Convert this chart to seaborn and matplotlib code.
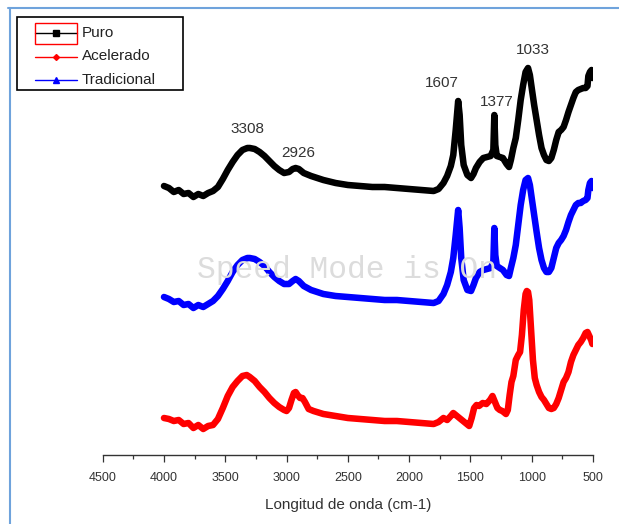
import pandas as pd
import matplotlib.pyplot as plt
import seaborn as sns
from matplotlib.lines import Line2D
from matplotlib.patches import Rectangle

sns.set_theme(style='white')
plt.rcParams['font.family'] = ['Liberation Sans', 'DejaVu Sans']

# 波数 (cm-1)
wn_puro = [4000, 3960, 3920, 3880, 3840, 3800, 3760, 3720, 3680, 3640, 3600, 3560, 3520, 3480,
           3440, 3400, 3360, 3320, 3300, 3260, 3220, 3180, 3140, 3100, 3060, 3020, 2980, 2950,
           2926, 2900, 2860, 2800, 2700, 2600, 2500, 2400, 2300, 2200, 2100, 2000, 1900, 1800,
           1760, 1720, 1690, 1660, 1640, 1620, 1600, 1588, 1575, 1555, 1525, 1495, 1475, 1455,
           1425, 1395, 1365, 1335, 1313, 1305, 1297, 1285, 1260, 1235, 1205, 1185, 1170, 1150,
           1130, 1110, 1090, 1070, 1050, 1030, 1015, 1000, 980, 960, 940, 920, 900, 880, 860,
           840, 820, 800, 780, 760, 740, 720, 700, 680, 660, 640, 620, 600, 580, 560, 545, 538,
           525, 512, 505]
# 吸光度 (任意単位, オフセット込み)
abs_puro = [2.69, 2.67, 2.63, 2.65, 2.61, 2.62, 2.58, 2.61, 2.59, 2.62, 2.64, 2.68, 2.76, 2.85,
            2.93, 3.00, 3.05, 3.07, 3.07, 3.06, 3.03, 2.99, 2.94, 2.89, 2.85, 2.82, 2.83, 2.86,
            2.87, 2.86, 2.82, 2.79, 2.75, 2.72, 2.70, 2.69, 2.68, 2.68, 2.67, 2.66, 2.65, 2.64,
            2.66, 2.72, 2.79, 2.89, 3.00, 3.25, 3.54, 3.40, 3.10, 2.90, 2.80, 2.77, 2.81, 2.87,
            2.93, 2.97, 2.98, 2.99, 3.05, 3.40, 3.10, 2.99, 2.98, 2.97, 2.91, 2.88, 2.95, 3.07,
            3.17, 3.35, 3.55, 3.70, 3.83, 3.87, 3.80, 3.67, 3.50, 3.35, 3.20, 3.07, 3.00, 2.95, 2.94,
            2.97, 3.05, 3.15, 3.23, 3.25, 3.28, 3.35, 3.43, 3.50, 3.57, 3.63, 3.65, 3.66, 3.67, 3.67,
            3.69, 3.79, 3.83, 3.85, 3.77]

wn_trad = wn_puro
abs_trad = [1.58, 1.56, 1.53, 1.54, 1.50, 1.51, 1.47, 1.50, 1.48, 1.51, 1.54, 1.59, 1.66, 1.74,
            1.83, 1.90, 1.95, 1.97, 1.97, 1.96, 1.93, 1.89, 1.83, 1.78, 1.74, 1.71, 1.71, 1.74,
            1.76, 1.74, 1.69, 1.65, 1.61, 1.59, 1.58, 1.57, 1.56, 1.55, 1.55, 1.54, 1.53, 1.52,
            1.54, 1.61, 1.70, 1.83, 1.97, 2.20, 2.45, 2.27, 1.97, 1.75, 1.65, 1.64, 1.70, 1.77,
            1.83, 1.85, 1.86, 1.87, 1.93, 2.27, 2.00, 1.89, 1.87, 1.85, 1.80, 1.79, 1.87, 1.97,
            2.10, 2.30, 2.50, 2.65, 2.75, 2.77, 2.70, 2.57, 2.40, 2.23, 2.07, 1.95, 1.87, 1.83, 1.83,
            1.87, 1.97, 2.07, 2.12, 2.15, 2.19, 2.25, 2.33, 2.40, 2.45, 2.50, 2.52, 2.52, 2.54, 2.55,
            2.57, 2.65, 2.72, 2.74, 2.67]

wn_acel = [4000, 3960, 3920, 3880, 3840, 3800, 3760, 3720, 3680, 3640, 3600, 3560, 3520, 3480,
           3440, 3400, 3360, 3325, 3300, 3260, 3220, 3180, 3140, 3100, 3060, 3020, 3000, 2980,
           2960, 2940, 2926, 2910, 2890, 2870, 2850, 2820, 2780, 2700, 2600, 2500, 2400, 2300,
           2200, 2100, 2000, 1900, 1800, 1760, 1720, 1690, 1660, 1640, 1620, 1590, 1560, 1530,
           1510, 1490, 1470, 1450, 1430, 1400, 1370, 1340, 1320, 1300, 1280, 1260, 1240, 1210,
           1195, 1180, 1165, 1150, 1130, 1110, 1095, 1080, 1065, 1050, 1040, 1030, 1020, 1005,
           990, 975, 960, 940, 920, 900, 880, 860, 840, 820, 800, 780, 760, 740, 720, 700, 680,
           660, 640, 620, 600, 580, 560, 545, 530, 515, 505]
abs_acel = [0.37, 0.36, 0.34, 0.35, 0.31, 0.32, 0.27, 0.30, 0.26, 0.29, 0.30, 0.36, 0.47, 0.59,
            0.68, 0.74, 0.79, 0.80, 0.78, 0.74, 0.68, 0.63, 0.57, 0.52, 0.48, 0.45, 0.44, 0.47,
            0.55, 0.62, 0.63, 0.60, 0.57, 0.57, 0.53, 0.46, 0.44, 0.41, 0.39, 0.37, 0.36, 0.35,
            0.34, 0.34, 0.33, 0.32, 0.31, 0.33, 0.37, 0.35, 0.39, 0.42, 0.40, 0.37, 0.34, 0.31,
            0.29, 0.37, 0.47, 0.50, 0.49, 0.52, 0.51, 0.55, 0.59, 0.53, 0.47, 0.45, 0.44, 0.41,
            0.45, 0.60, 0.73, 0.79, 0.95, 1.00, 1.03, 1.20, 1.45, 1.61, 1.64, 1.63, 1.55, 1.25,
            0.95, 0.77, 0.70, 0.63, 0.58, 0.55, 0.51, 0.47, 0.46, 0.47, 0.51, 0.57, 0.65, 0.73, 0.77,
            0.83, 0.93, 1.00, 1.05, 1.10, 1.13, 1.17, 1.22, 1.23, 1.19, 1.15, 1.11]

peak_labels = ['3308', '2926', '1607', '1377', '1033']
peak_label_x = [3320, 2905, 1735, 1286, 990]
peak_label_y = [3.26, 3.02, 3.72, 3.53, 4.05]

names = ['Puro', 'Acelerado', 'Tradicional']
colors = {'Puro': '#000000', 'Acelerado': '#ff0000', 'Tradicional': '#0000ff'}
markers = {'Puro': ('s', 4.5), 'Acelerado': ('D', 3), 'Tradicional': ('^', 5)}

df = pd.concat([
    pd.DataFrame({'wn': wn_puro, 'abs': abs_puro, 'muestra': 'Puro'}),
    pd.DataFrame({'wn': wn_trad, 'abs': abs_trad, 'muestra': 'Tradicional'}),
    pd.DataFrame({'wn': wn_acel, 'abs': abs_acel, 'muestra': 'Acelerado'}),
])

W, H = 619, 524


def fx(x):
    return x / W


def fy(y):
    return 1 - y / H


fig = plt.figure(figsize=(W / 100, H / 100), dpi=100)
ax = fig.add_axes([fx(102.7), 69 / H, 490.3 / W, 440 / H])

sns.lineplot(data=df, x='wn', y='abs', hue='muestra', palette=colors, sort=False,
             estimator=None, linewidth=4.7, legend=False, ax=ax, zorder=3)
for line in ax.lines:
    line.set_solid_joinstyle('round')
    line.set_solid_capstyle('round')

ax.set_xlim(4500, 500)
ax.set_ylim(0, 4.40)
ax.set_xticks(range(4500, 499, -500))
ax.set_xticks(range(4250, 500, -500), minor=True)
ax.set_yticks([])
ax.set_ylabel('')
for s in ['left', 'top', 'right']:
    ax.spines[s].set_visible(False)
ax.spines['bottom'].set_color('#333333')
ax.spines['bottom'].set_linewidth(1.0)
ax.tick_params(axis='x', which='major', direction='out', length=4.8, width=0.9,
               color='#333333', labelsize=9, labelcolor='#333333', pad=7.5, bottom=True)
ax.tick_params(axis='x', which='minor', direction='out', length=2.9, width=0.9,
               color='#333333', bottom=True)
ax.set_xlabel('Longitud de onda (cm-1)', fontsize=11, color='#333333', labelpad=10)

for t, x, y in zip(peak_labels, peak_label_x, peak_label_y):
    ax.text(x, y, t, ha='center', va='center', fontsize=11, color='#333333')

# watermark
fig.text(fx(347), fy(270), 'Speed Mode is On', ha='center', va='center',
         fontsize=22.5, family='Liberation Mono', color='#dcdcdc', zorder=0)

# 凡例 (手描き)
fig.add_artist(Rectangle((fx(17), fy(90)), 166 / W, 73 / H, transform=fig.transFigure,
                         facecolor='white', edgecolor='black', lw=1.2, zorder=5))
for i, name in enumerate(names):
    yy = fy(33 + 23.5 * i)
    m, ms = markers[name]
    fig.add_artist(Line2D([fx(35), fx(77)], [yy, yy], color=colors[name], lw=1,
                          transform=fig.transFigure, zorder=6))
    fig.add_artist(Line2D([fx(56)], [yy], color=colors[name], marker=m, markersize=ms,
                          transform=fig.transFigure, zorder=6))
    fig.text(fx(82), yy, name, ha='left', va='center', fontsize=11, color='#222222',
             zorder=6)
fig.add_artist(Rectangle((fx(35), fy(44)), 42 / W, 21 / H, transform=fig.transFigure,
                         fill=False, edgecolor='red', lw=1.0, zorder=7))

# 外枠 (スクリーンショットの枠線)
fig.add_artist(Line2D([fx(8), 1], [fy(7.5), fy(7.5)], color='#6fa3dc', lw=1.5,
                      transform=fig.transFigure))
fig.add_artist(Line2D([fx(10), fx(10)], [0, fy(7.5)], color='#6fa3dc', lw=1.5,
                      transform=fig.transFigure))

fig.savefig('out.png', dpi=100)
